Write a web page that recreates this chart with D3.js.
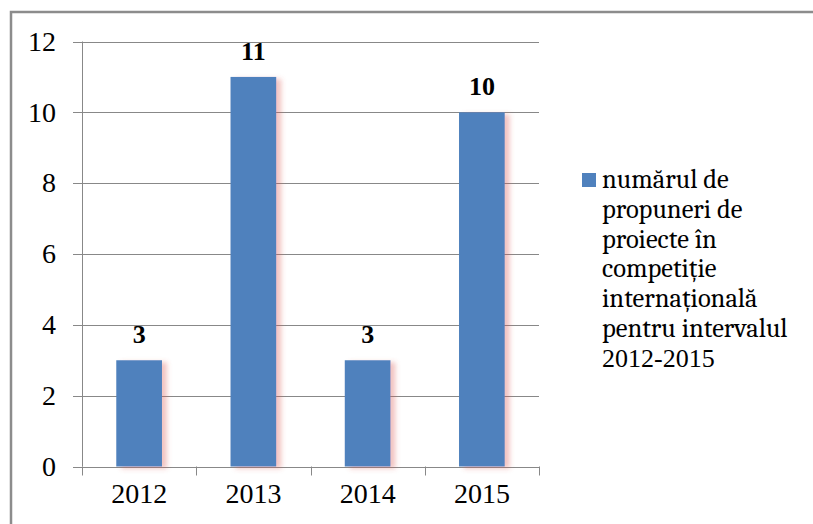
<!DOCTYPE html>
<html>
<head>
<meta charset="utf-8">
<script src="https://cdn.jsdelivr.net/npm/d3@7"></script>
<style>
  body { margin: 0; background: #fff; }
</style>
</head>
<body>
<div id="chart"></div>
<script>
const years = ["2012", "2013", "2014", "2015"];
const counts = [3, 11, 3, 10];
const yTicks = [0, 2, 4, 6, 8, 10, 12];
const legendLines = ["numărul de", "propuneri de", "proiecte în", "competiție", "internațională", "pentru intervalul", "2012-2015"];

const width = 813, height = 524;
const plot = { left: 82, right: 539, top: 41.5, bottom: 466.5 };
const textFont = "Caladea";
const numFont = "Liberation Serif";

const svg = d3.select("#chart").append("svg")
  .attr("width", width)
  .attr("height", height)
  .style("display", "block");

// soft reddish shadow like the office chart
const defs = svg.append("defs");
defs.append("filter")
    .attr("id", "shadow")
    .attr("x", "-20%").attr("y", "-5%")
    .attr("width", "160%").attr("height", "115%")
  .append("feDropShadow")
    .attr("dx", 5).attr("dy", 2)
    .attr("stdDeviation", 2.5)
    .attr("flood-color", "#d9534f")
    .attr("flood-opacity", 0.35);

// outer frame
svg.append("rect")
  .attr("x", 11).attr("y", 12)
  .attr("width", width + 10).attr("height", height + 10)
  .attr("fill", "none")
  .attr("stroke", "#8c8c8c")
  .attr("stroke-width", 2.5);

const x = d3.scaleBand()
  .domain(years)
  .range([plot.left, plot.right])
  .paddingInner(0.6)
  .paddingOuter(0.3);

const xGrid = d3.scaleBand()
  .domain(years)
  .range([plot.left, plot.right]);

const y = d3.scaleLinear()
  .domain([0, 12])
  .range([plot.bottom, plot.top]);

// gridlines
svg.append("g")
  .selectAll("line")
  .data(yTicks)
  .join("line")
    .attr("x1", plot.left - 9)
    .attr("x2", plot.right)
    .attr("y1", d => Math.round(y(d)) + 0.5)
    .attr("y2", d => Math.round(y(d)) + 0.5)
    .attr("stroke", "#888")
    .attr("stroke-width", 1);

// y axis line
svg.append("line")
  .attr("x1", plot.left + 0.5).attr("x2", plot.left + 0.5)
  .attr("y1", plot.top).attr("y2", plot.bottom)
  .attr("stroke", "#888");

// x ticks at category boundaries
const xBounds = years.map(d => xGrid(d)).concat([plot.right]);
svg.append("g")
  .selectAll("line")
  .data(xBounds)
  .join("line")
    .attr("x1", d => Math.round(d) + 0.5)
    .attr("x2", d => Math.round(d) + 0.5)
    .attr("y1", plot.bottom)
    .attr("y2", plot.bottom + 9)
    .attr("stroke", "#888");

// y labels
svg.append("g")
  .selectAll("text")
  .data(yTicks)
  .join("text")
    .attr("x", 56)
    .attr("y", d => y(d))
    .attr("dy", "0.33em")
    .attr("text-anchor", "end")
    .style("font-family", numFont)
    .style("font-size", "28px")
    .attr("fill", "#000")
    .text(d => d);

// x labels
svg.append("g")
  .selectAll("text")
  .data(years)
  .join("text")
    .attr("x", d => xGrid(d) + xGrid.bandwidth() / 2)
    .attr("y", 503)
    .attr("text-anchor", "middle")
    .style("font-family", numFont)
    .style("font-size", "28px")
    .attr("fill", "#000")
    .text(d => d);

// bars
svg.append("g")
  .selectAll("rect")
  .data(counts)
  .join("rect")
    .attr("x", (d, i) => x(years[i]))
    .attr("y", d => y(d))
    .attr("width", x.bandwidth())
    .attr("height", d => y(0) - y(d))
    .attr("fill", "#4f81bd")
    .attr("filter", "url(#shadow)");

// value labels
svg.append("g")
  .selectAll("text")
  .data(counts)
  .join("text")
    .attr("x", (d, i) => x(years[i]) + x.bandwidth() / 2)
    .attr("y", d => y(d) - 17)
    .attr("text-anchor", "middle")
    .style("font-family", numFont)
    .style("font-size", "26px")
    .style("font-weight", "bold")
    .attr("fill", "#000")
    .text(d => d);

// legend
const legend = svg.append("g");
legend.append("rect")
  .attr("x", 582).attr("y", 173)
  .attr("width", 14).attr("height", 14)
  .attr("fill", "#4f81bd");

legend.selectAll("text")
  .data(legendLines)
  .join("text")
    .attr("x", 602)
    .attr("y", (d, i) => 188 + i * 29.8)
    .style("font-family", (d, i) => i === legendLines.length - 1 ? numFont : textFont)
    .style("font-size", (d, i) => i === legendLines.length - 1 ? "26px" : "26.5px")
    .attr("fill", "#000")
    .text(d => d);
</script>
</body>
</html>
